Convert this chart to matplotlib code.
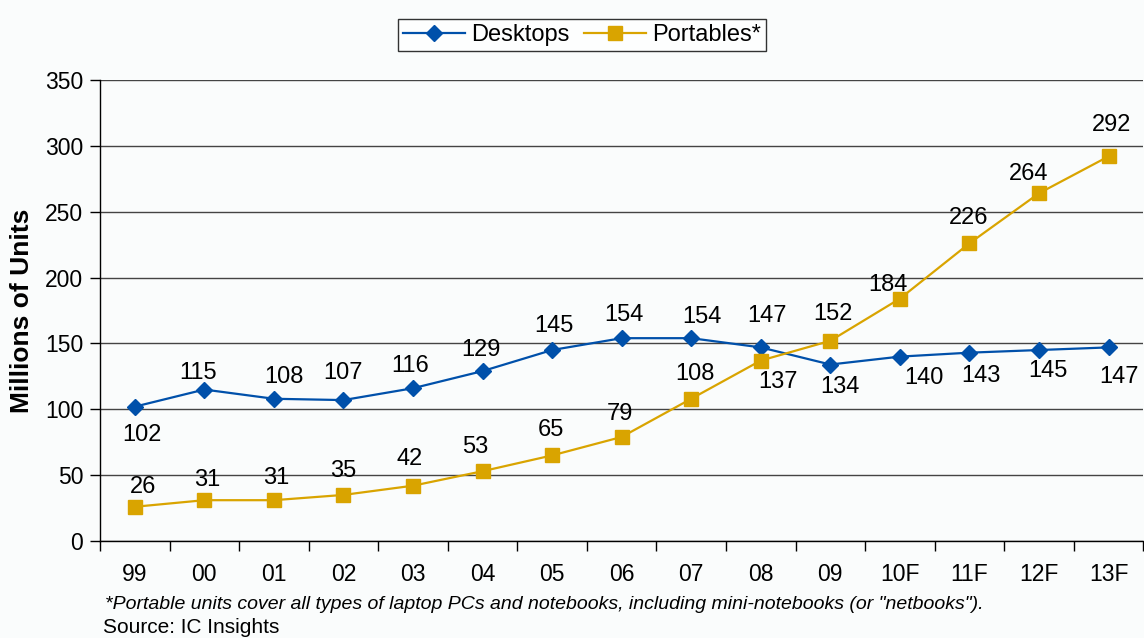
import matplotlib.pyplot as plt
from matplotlib.ticker import FixedLocator

plt.rcParams['font.family'] = ['Liberation Sans', 'DejaVu Sans']

# data
years = ["99", "00", "01", "02", "03", "04", "05", "06", "07", "08", "09", "10F", "11F", "12F", "13F"]
desktops = [102, 115, 108, 107, 116, 129, 145, 154, 154, 147, 134, 140, 143, 145, 147]
portables = [26, 31, 31, 35, 42, 53, 65, 79, 108, 137, 152, 184, 226, 264, 292]

# label offsets from each point, in pixels (dx, dy up)
desk_off = [(7, -28), (-6, 17), (10, 22), (0, 27), (-3, 22), (-2, 21), (2, 24), (2, 23),
            (11, 21), (6, 31), (10, -22), (24, -21), (12, -23), (9, -21), (10, -30)]
port_off = [(8, 20), (3, 20), (2, 22), (0, 24), (-3, 27), (-7, 24), (-1, 25), (-2, 23),
            (4, 25), (17, -21), (3, 27), (-12, 14), (-1, 25), (-10, 19), (3, 31)]

BLUE = "#0050AA"
GOLD = "#D9A400"
BG = "#FAFCFC"

fig = plt.figure(figsize=(11.44, 6.38), dpi=100, facecolor=BG)
ax = fig.add_axes([0.0874, 0.152, 0.912, 0.7226])
ax.set_facecolor(BG)

x = list(range(len(years)))
ax.plot(x, desktops, color=BLUE, lw=1.6, marker="D", ms=8.5, mec=BLUE, mfc=BLUE, label="Desktops", zorder=3)
ax.plot(x, portables, color=GOLD, lw=1.6, marker="s", ms=10, mec=GOLD, mfc=GOLD, label="Portables*", zorder=3)

for xi, v, (dx, dy) in zip(x, desktops, desk_off):
    ax.annotate(str(v), (xi, v), xytext=(dx, dy), textcoords="offset pixels",
                ha="center", va="center", fontsize=17)
for xi, v, (dx, dy) in zip(x, portables, port_off):
    ax.annotate(str(v), (xi, v), xytext=(dx, dy), textcoords="offset pixels",
                ha="center", va="center", fontsize=17)

ax.set_xlim(-0.5, len(years) - 0.5)
ax.set_ylim(0, 350)
ax.set_yticks(range(0, 351, 50))
ax.set_xticks(x)
ax.set_xticklabels(years)
ax.xaxis.set_minor_locator(FixedLocator([i - 0.5 for i in range(len(years) + 1)]))
ax.tick_params(axis="x", which="major", length=0, pad=16, labelsize=16.5)
ax.tick_params(axis="x", which="minor", length=7, width=1, color="black")
ax.tick_params(axis="y", length=7, width=1, labelsize=16.5, pad=5)

ax.grid(axis="y", color="#444444", lw=1)
ax.set_axisbelow(True)
for s in ["top", "right"]:
    ax.spines[s].set_visible(False)
for s in ["left", "bottom"]:
    ax.spines[s].set_color("black")
    ax.spines[s].set_linewidth(1)

ax.set_ylabel("Millions of Units", fontsize=19, fontweight="bold", labelpad=8)

leg = fig.legend(loc="upper center", bbox_to_anchor=(0.509, 0.988), ncol=2, fontsize=17,
                 frameon=True, fancybox=False, edgecolor="black", handlelength=2.6,
                 columnspacing=0.6, handletextpad=0.3, borderpad=0.2)
leg.get_frame().set_linewidth(1)
leg.get_frame().set_facecolor("white")

fig.text(0.092, 0.052, '*Portable units cover all types of laptop PCs and notebooks, including mini-notebooks (or "netbooks").',
         fontsize=14, style="italic", ha="left", va="center")
fig.text(0.09, 0.016, "Source: IC Insights", fontsize=15, ha="left", va="center")

fig.savefig("out.png", dpi=100, facecolor=BG)
